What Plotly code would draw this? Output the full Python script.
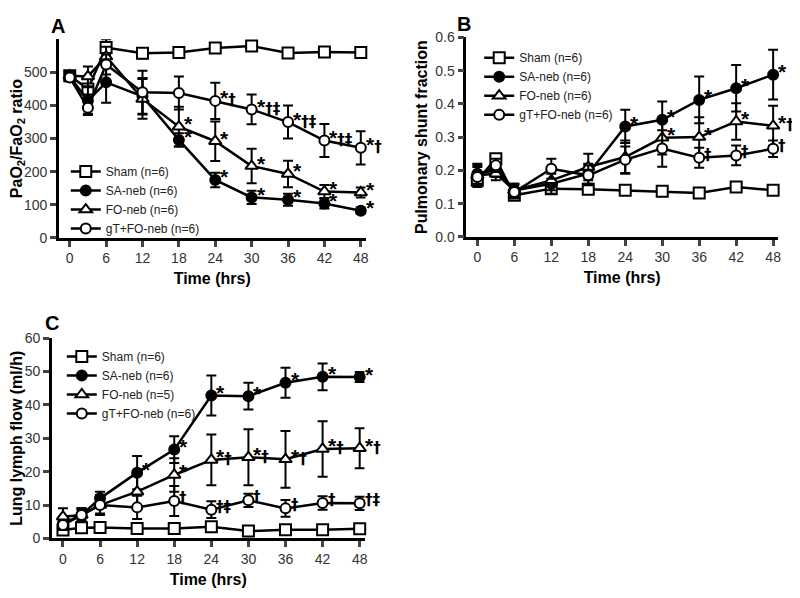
import plotly.graph_objects as go

hours = [0, 3, 6, 12, 18, 24, 30, 36, 42, 48]
groups = ["Sham", "SA-neb", "FO-neb", "gT+FO-neb"]

# Panel A: PaO2/FaO2 ratio (mean, SEM)
pf_sham = [490, 450, 575, 558, 560, 574, 580, 559, 562, 560]
pf_sham_err = [10, 15, 25, 15, 15, 8, 15, 8, 15, 5]
pf_sa = [488, 415, 470, 428, 296, 175, 122, 115, 104, 82]
pf_sa_err = [12, 40, 62, 55, 20, 22, 20, 18, 15, 10]
pf_fo = [490, 488, 548, 420, 336, 292, 217, 193, 140, 137]
pf_fo_err = [12, 30, 30, 60, 60, 60, 52, 40, 20, 15]
pf_gt = [485, 393, 524, 440, 438, 414, 388, 350, 294, 272]
pf_gt_err = [12, 22, 30, 65, 50, 55, 45, 50, 50, 50]
pf_n = [6, 6, 6, 6]
pf_sig = {
    "SA-neb": ["", "", "", "", "*", "*", "*", "*", "*", "*"],
    "FO-neb": ["", "", "", "", "*", "*", "*", "*", "*", "*"],
    "gT+FO-neb": ["", "", "", "", "", "*†", "*†‡", "*†‡", "*†‡", "*†"],
}

# Panel B: pulmonary shunt fraction
qs_sham = [0.170, 0.235, 0.125, 0.145, 0.143, 0.140, 0.137, 0.132, 0.150, 0.140]
qs_sham_err = [0.01, 0.01, 0.01, 0.01, 0.005, 0.005, 0.005, 0.005, 0.005, 0.005]
qs_sa = [0.190, 0.200, 0.140, 0.160, 0.190, 0.332, 0.352, 0.412, 0.447, 0.488]
qs_sa_err = [0.03, 0.02, 0.02, 0.03, 0.03, 0.05, 0.055, 0.07, 0.07, 0.075]
qs_fo = [0.185, 0.190, 0.140, 0.170, 0.210, 0.240, 0.298, 0.300, 0.347, 0.334]
qs_fo_err = [0.03, 0.02, 0.02, 0.03, 0.04, 0.05, 0.05, 0.06, 0.055, 0.06]
qs_gt = [0.180, 0.215, 0.135, 0.205, 0.185, 0.232, 0.266, 0.238, 0.245, 0.265]
qs_gt_err = [0.03, 0.02, 0.02, 0.03, 0.03, 0.04, 0.055, 0.03, 0.03, 0.025]
qs_n = [6, 6, 6, 6]
qs_sig = {
    "SA-neb": ["", "", "", "", "", "*", "*", "*", "*", "*"],
    "FO-neb": ["", "", "", "", "", "", "*", "*", "*", "*†"],
    "gT+FO-neb": ["", "", "", "", "", "", "", "†", "†", "†"],
}

# Panel C: lung lymph flow (ml/h)
ql_sham = [2.5, 3.2, 3.3, 3.0, 3.0, 3.5, 2.2, 2.6, 2.6, 2.9]
ql_sham_err = [0.5, 0.5, 0.5, 0.5, 0.5, 0.8, 0.4, 0.4, 0.4, 0.4]
ql_sa = [4.5, 7.0, 12.0, 19.7, 26.6, 42.8, 42.6, 46.6, 48.4, 48.3]
ql_sa_err = [1.5, 2.0, 2.0, 5.0, 4.0, 6.0, 4.0, 4.5, 4.0, 1.5]
ql_fo = [6.5, 7.0, 10.0, 14.0, 19.0, 23.5, 24.3, 23.7, 26.8, 27.0]
ql_fo_err = [2.5, 2.0, 3.0, 5.0, 5.0, 7.6, 8.4, 8.5, 8.3, 6.0]
ql_gt = [4.0, 7.0, 10.0, 9.3, 11.2, 8.6, 11.4, 9.0, 10.6, 10.5]
ql_gt_err = [1.5, 1.5, 2.5, 3.5, 4.5, 2.5, 2.0, 2.5, 2.0, 2.0]
ql_n = [6, 6, 5, 6]
ql_sig = {
    "SA-neb": ["", "", "", "*", "*", "*", "*", "*", "*", "*"],
    "FO-neb": ["", "", "", "", "*", "*†", "*†", "*†", "*†", "*†"],
    "gT+FO-neb": ["", "", "", "", "†", "†‡", "†", "†", "†", "†‡"],
}

FONT = "Arial, Liberation Sans, sans-serif"
styles = {
    "Sham": dict(symbol="square", color="white", size=11),
    "SA-neb": dict(symbol="circle", color="black", size=10),
    "FO-neb": dict(symbol="triangle-up", color="white", size=11),
    "gT+FO-neb": dict(symbol="circle", color="white", size=10),
}

# the page body has an 8px margin, so the figure sits 8px in from the window edge
OFF = 8
W, H = 800 - OFF, 598 - OFF


def fx(px):
    return (px - OFF) / W


def fy(py):
    return 1 - (py - OFF) / H


def sig_html(s):
    star = '<span style="font-size:21px">*</span>' if s.startswith("*") else ""
    rest = s.lstrip("*")
    if rest:
        rest = '<span style="font-family:DejaVu Sans;font-size:15px">' + rest + "</span>"
    return "<b>" + star + rest + "</b>"


fig = go.Figure()


def add_panel(ax, legend, series, errs, ns, sig):
    for g, y, e, n in zip(groups, series, errs, ns):
        st = styles[g]
        fig.add_trace(go.Scatter(
            x=hours, y=y, name=f"{g} (n={n})", mode="lines+markers",
            xaxis="x" + ax, yaxis="y" + ax, legend=legend, cliponaxis=False,
            line=dict(color="black", width=2.5),
            marker=dict(symbol=st["symbol"], size=st["size"], color=st["color"],
                        line=dict(color="black", width=2)),
            error_y=dict(type="data", array=e, color="black", thickness=2, width=5),
        ))
        if g in sig:
            for t, v, s in zip(hours, y, sig[g]):
                if s:
                    fig.add_annotation(x=t, y=v, text=sig_html(s), showarrow=False,
                                       xref="x" + ax, yref="y" + ax,
                                       xanchor="left", yanchor="middle", xshift=3, yshift=3,
                                       font=dict(family=FONT, size=15, color="black"))


add_panel("", "legend", [pf_sham, pf_sa, pf_fo, pf_gt],
          [pf_sham_err, pf_sa_err, pf_fo_err, pf_gt_err], pf_n, pf_sig)
add_panel("2", "legend2", [qs_sham, qs_sa, qs_fo, qs_gt],
          [qs_sham_err, qs_sa_err, qs_fo_err, qs_gt_err], qs_n, qs_sig)
add_panel("3", "legend3", [ql_sham, ql_sa, ql_fo, ql_gt],
          [ql_sham_err, ql_sa_err, ql_fo_err, ql_gt_err], ql_n, ql_sig)


def xax(x0, x1):
    return dict(domain=[fx(x0), fx(x1)], range=[-1.8, 48.8],
                tickvals=list(range(0, 49, 6)), ticks="outside", ticklen=6, tickwidth=2.5,
                showline=True, linewidth=2.5, linecolor="black", showgrid=False, zeroline=False,
                tickfont=dict(family=FONT, size=14, color="#333"),
                title=dict(text="<b>Time (hrs)</b>", standoff=8,
                           font=dict(family=FONT, size=16, color="black")))


def yax(y0, y1, rng, tv, fmt, title):
    return dict(domain=[fy(y0), fy(y1)], range=rng, tickvals=tv, tickformat=fmt,
                ticks="outside", ticklen=6, tickwidth=2.5,
                showline=True, linewidth=2.5, linecolor="black", showgrid=False, zeroline=False,
                tickfont=dict(family=FONT, size=14, color="#333"),
                title=dict(text=f"<b>{title}</b>", standoff=4,
                           font=dict(family=FONT, size=16, color="black")))


leg = dict(xanchor="left", yanchor="top", bgcolor="rgba(0,0,0,0)", itemwidth=30,
           tracegroupgap=0, font=dict(family=FONT, size=12, color="#222"))

fig.update_layout(
    width=W, height=H, plot_bgcolor="white", paper_bgcolor="white",
    margin=dict(l=0, r=0, t=0, b=0), showlegend=True,
    xaxis=dict(xax(59, 367), anchor="y"),
    yaxis=dict(yax(236, 32, [0, 600], [0, 100, 200, 300, 400, 500], "d",
                   "PaO<sub>2</sub>/FaO<sub>2</sub> ratio"), anchor="x"),
    xaxis2=dict(xax(468, 781), anchor="y2"),
    yaxis2=dict(yax(235, 30, [0, 0.6], [0, 0.1, 0.2, 0.3, 0.4, 0.5, 0.6], ".1f",
                    "Pulmonary shunt fraction"), anchor="x2"),
    xaxis3=dict(xax(52, 366), anchor="y3"),
    yaxis3=dict(yax(545, 339, [0, 60], [0, 10, 20, 30, 40, 50, 60], "d",
                    "Lung lymph flow (ml/h)"), anchor="x3"),
    legend=dict(leg, x=fx(66), y=fy(153)),
    legend2=dict(leg, x=fx(481), y=fy(36)),
    legend3=dict(leg, x=fx(62), y=fy(343)),
)

for txt, x, y in [("A", 58, 18), ("B", 466, 16), ("C", 52, 324)]:
    fig.add_annotation(text=f"<b>{txt}</b>", x=fx(x), y=fy(y), xref="paper", yref="paper",
                       showarrow=False, xanchor="center", yanchor="middle",
                       font=dict(family=FONT, size=20, color="black"))

fig.write_html("out.html")
